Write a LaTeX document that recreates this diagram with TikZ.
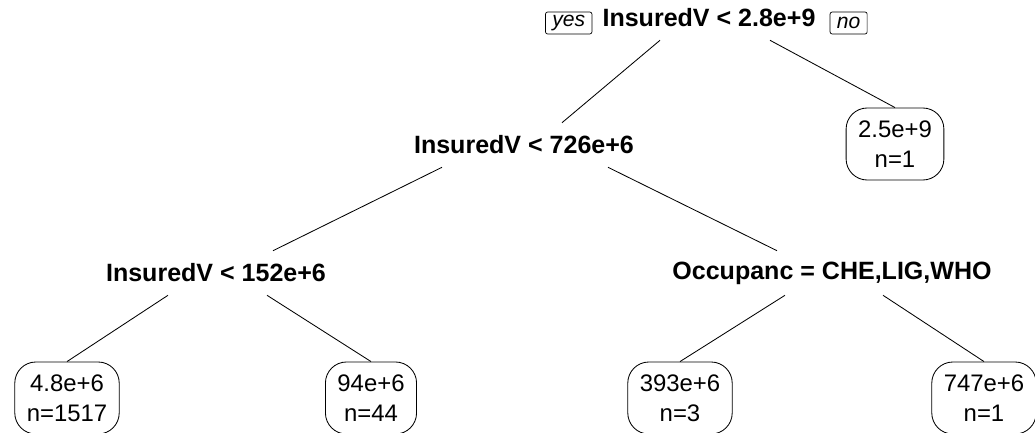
\documentclass[tikz,border=0pt]{standalone}
\usepackage{fontspec}
\setmainfont{Liberation Sans}
\usetikzlibrary{positioning,calc}

\begin{document}
\begin{tikzpicture}[x=0.025cm,y=-0.025cm]
            \tikzstyle{split}=[inner sep=0pt, minimum height=1.1cm, font=\fontsize{17.8}{21}\selectfont\bfseries]
            \tikzstyle{leaf}=[draw, line width=0.6pt, rounded corners=15pt, inner xsep=0.3cm, inner ysep=0pt, minimum height=1.8cm, align=center, font=\fontsize{17}{21.5}\selectfont]
            \tikzstyle{tag}=[draw, line width=0.5pt, rounded corners=1.5pt, inner xsep=0.17cm, inner ysep=0pt, minimum height=0.55cm, font=\fontsize{15}{17}\selectfont\itshape]
            \tikzstyle{branch}=[line width=0.6pt]
            \useasboundingbox (0,0) rectangle (1035,433);
            % split labels
            \node [split] (root) at (709,18) {InsuredV < 2.8e+9};
            \node [split] (iv726) at (524,145) {InsuredV < 726e+6};
            \node [split] (iv152) at (216,273) {InsuredV < 152e+6};
            \node [split] (occ) at (832,273) {Occupanc = CHE,LIG,WHO};
            \node [tag, left=0.25cm of root, yshift=-0.125cm] (yes) {yes};
            \node [tag, right=0.35cm of root, yshift=-0.125cm] (no) {no};
            % leaves
            \node [leaf] (big) at (895,144) {2.5e+9\\n=1};
            \node [leaf] (lowA) at (67,398) {4.8e+6\\n=1517};
            \node [leaf] (lowB) at (371,398) {94e+6\\n=44};
            \node [leaf] (midA) at (680,398) {393e+6\\n=3};
            \node [leaf] (midB) at (984,398) {747e+6\\n=1};
            % branches
            \draw [branch] ($(root.south)+(-49,0)$) -- ($(iv726.north)+(38,0)$);
            \draw [branch] ($(root.south)+(61,0)$) -- (big.north);
            \draw [branch] ($(iv726.south)+(-82,0)$) -- ($(iv152.north)+(57,0)$);
            \draw [branch] ($(iv726.south)+(84,0)$) -- ($(occ.north)+(-55,0)$);
            \draw [branch] ($(iv152.south)+(-48,0)$) -- (lowA.north);
            \draw [branch] ($(iv152.south)+(51,0)$) -- (lowB.north);
            \draw [branch] ($(occ.south)+(-47,0)$) -- (midA.north);
            \draw [branch] ($(occ.south)+(51,0)$) -- (midB.north);
\end{tikzpicture}
\end{document}
